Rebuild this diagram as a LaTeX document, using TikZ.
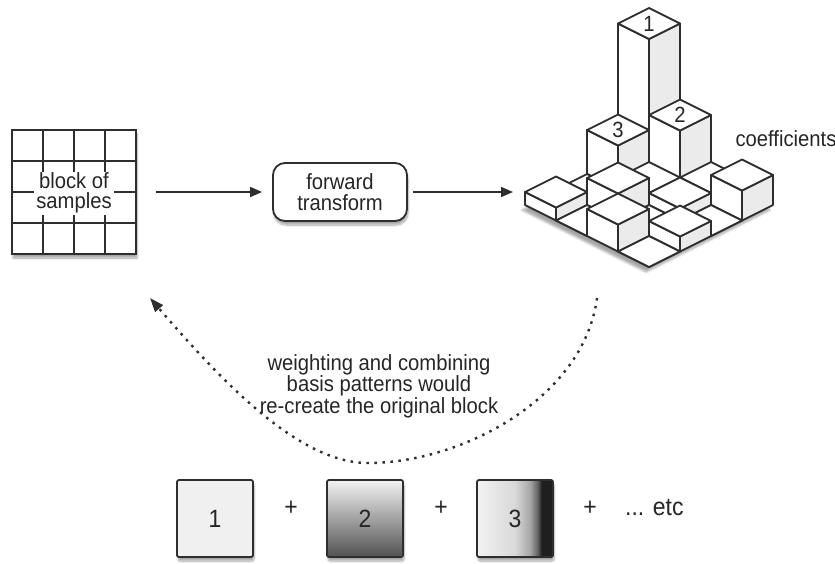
\documentclass[tikz,border=0pt]{standalone}
\usepackage{fontspec}
\setmainfont{Liberation Sans}[FakeStretch=0.92]
\usetikzlibrary{arrows.meta,shadows.blur}

\definecolor{inkgray}{HTML}{2E2E2E}
\definecolor{sidegray}{HTML}{EBEBEB}
\pgfdeclarehorizontalshading{basisthree}{100bp}{color(0bp)=(black!5); color(25bp)=(black!5); color(50bp)=(black!15); color(60bp)=(black!35); color(65bp)=(black!62); color(67.5bp)=(black!88); color(100bp)=(black!88)}

\tikzset{
  ink/.style={draw=inkgray, line width=1.8pt},
  flow/.style={inkgray, line width=1.6pt, -{Triangle[length=12pt,width=10pt]}},
  recomb/.style={inkgray, line width=2.4pt, dash pattern=on 2.5pt off 5.5pt, -{Triangle[length=14pt,width=10pt]}},
  softshadow/.style={blur shadow={shadow xshift=1pt, shadow yshift=-4pt, shadow blur steps=8, shadow opacity=35}},
  basisbox/.style={ink, rounded corners=2pt, minimum width=76pt, minimum height=77pt, softshadow, font=\fontsize{25pt}{25pt}\selectfont},
  bigtext/.style={font=\fontsize{25pt}{25pt}\selectfont},
  bartext/.style={font=\fontsize{22pt}{22pt}\selectfont},
  cubetop/.style={ink, fill=white, line join=round},
  cubeleft/.style={ink, fill=white, line join=round},
  cuberight/.style={ink, fill=sidegray, line join=round},
}

\begin{document}
\begin{tikzpicture}[x=1pt, y=-1pt, font=\fontsize{22pt}{20.5pt}\selectfont, text=black!85]
    \useasboundingbox (0,0) rectangle (835,563);

    % block of samples (4x4 grid)
    \node[ink, fill=white, softshadow, minimum width=124pt, minimum height=124pt, inner sep=0pt] (block) at (74,192) {};
    \foreach \i in {1,2,3} {
        \draw[ink] (12+31*\i,130) -- (12+31*\i,254);
        \draw[ink] (12,130+31*\i) -- (136,130+31*\i);
    }
    \node[fill=white, inner xsep=2pt, inner ysep=1pt, align=center] (samples) at (74,193) {block of\\samples};

    % forward transform
    \node[ink, fill=white, softshadow, rounded corners=12pt, minimum width=134pt, minimum height=58pt, align=center] (fwd) at (340,192) {forward\\transform};
    \coordinate (chartin) at (513,192);

    \draw[flow] ([xshift=19pt]block.east) -- ([xshift=-10pt]fwd.west);
    \draw[flow] ([xshift=5pt]fwd.east) -- (chartin);

    % isometric coefficient bars
    \begin{scope}[shift={(649pt,-143pt)}, x={(31pt,-15.5pt)}, y={(-31pt,-15.5pt)}, z={(0pt,1pt)}]
        \fill[white, blur shadow={shadow xshift=-3pt, shadow yshift=-5pt, shadow blur steps=8, shadow opacity=35}]
            (0,0,0) -- (4,0,0) -- (4,4,0) -- (0,4,0) -- cycle;
        \foreach \a/\b/\h in {0/0/135, 1/0/59, 0/1/44, 2/0/12, 1/1/12, 0/2/0,
                              3/0/30, 2/1/12, 1/2/27, 0/3/13, 3/1/0, 2/2/0, 1/3/0,
                              3/2/15, 2/3/27, 3/3/0} {
            \filldraw[cubeleft] (\a,\b+1,0) -- (\a+1,\b+1,0) -- (\a+1,\b+1,\h) -- (\a,\b+1,\h) -- cycle;
            \filldraw[cuberight] (\a+1,\b+1,0) -- (\a+1,\b,0) -- (\a+1,\b,\h) -- (\a+1,\b+1,\h) -- cycle;
            \filldraw[cubetop] (\a,\b,\h) -- (\a+1,\b,\h) -- (\a+1,\b+1,\h) -- (\a,\b+1,\h) -- cycle;
        }
        \node[bartext] (coef1) at (0.5,0.5,135) {1};
        \node[bartext] (coef2) at (1.5,0.5,59) {2};
        \node[bartext] (coef3) at (0.5,1.5,44) {3};
    \end{scope}
    \node[anchor=west] (coeflabel) at (732,139) {coefficients};

    % recombination path
    \coordinate (recombstart) at (597,298);
    \coordinate (recombend) at (150,298);
    \draw[recomb] (recombstart) .. controls (584,398) and (462,463) .. (368,463)
        .. controls (300,463) and (225,385) .. (recombend);
    \node[align=center] (recombtext) at (379,386) {weighting and combining\\basis patterns would\\re-create the original block};

    % basis patterns
    \node[basisbox, fill=black!6] (basis1) at (215,518.5) {1};
    \node[basisbox, top color=black!5, bottom color=black!68] (basis2) at (365,518.5) {2};
    \node[basisbox, shading=basisthree] (basis3) at (515,518.5) {3};
    \node[bigtext] (plus1) at (291,508) {+};
    \node[bigtext] (plus2) at (441,508) {+};
    \node[bigtext] (plus3) at (590,508) {+};
    \node[bigtext, anchor=west, inner sep=0pt] (etc) at (625,508) {... etc};

\end{tikzpicture}
\end{document}
